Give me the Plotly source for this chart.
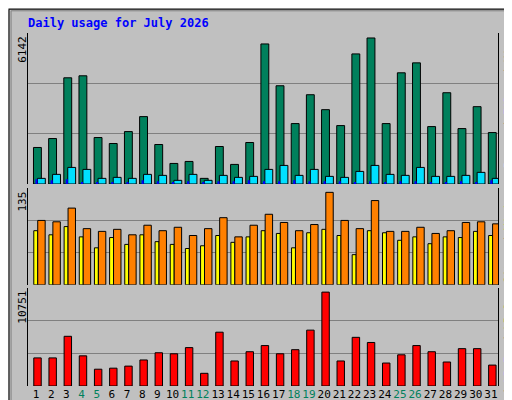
import plotly.graph_objects as go

days = list(range(1, 32))
hits = [1536, 1912, 4467, 4551, 1954, 1703, 2205, 2834, 1661, 865, 949, 237, 1577, 824, 1745, 5891,
        4132, 2541, 3755, 3127, 2457, 5472, 6142, 2541, 4677, 5095, 2415, 3839, 2331, 3253, 2164]
files = [237, 405, 698, 614, 237, 279, 237, 405, 363, 154, 405, 154, 363, 279, 321, 614,
         782, 363, 614, 321, 279, 530, 782, 405, 363, 698, 321, 321, 363, 489, 237]
pages = [196, 154, 196, 84, 84, 84, 84, 154, 112, 84, 112, 84, 112, 112, 154, 112,
         112, 154, 112, 112, 112, 84, 112, 84, 112, 112, 84, 84, 112, 84, 154]
visits = [79, 73, 85, 70, 54, 69, 59, 73, 63, 59, 53, 57, 72, 62, 70, 79,
          75, 54, 76, 81, 72, 44, 79, 76, 65, 70, 60, 70, 69, 78, 72]
sites = [94, 92, 112, 82, 78, 81, 73, 87, 79, 84, 72, 82, 98, 70, 87, 103,
         91, 79, 88, 135, 94, 82, 123, 78, 78, 84, 75, 79, 91, 92, 89]
kbytes = [3218, 3218, 5690, 3453, 1923, 2040, 2276, 2982, 3806, 3689, 4395, 1452, 6161, 2865, 3924, 4630,
          3689, 4159, 6396, 10751, 2865, 5572, 4983, 2629, 3571, 4630, 3924, 2747, 4277, 4277, 2394]
weekends = [4, 5, 11, 12, 18, 19, 25, 26]

MONO = "DejaVu Sans Mono"
line = dict(color="black", width=1)

fig = go.Figure()
fig.add_bar(x=days, y=hits, offset=-0.17, width=0.52, marker=dict(color="#00805C", line=line), yaxis="y")
fig.add_bar(x=days, y=files, offset=0.09, width=0.52, marker=dict(color="#00E0FF", line=line), yaxis="y")
fig.add_bar(x=days, y=pages, offset=-0.04, width=0.14, marker=dict(color="#0000FF", line=dict(width=0)), yaxis="y")
fig.add_bar(x=days, y=visits, offset=-0.15, width=0.26, marker=dict(color="#FFFF00", line=line), yaxis="y2")
fig.add_bar(x=days, y=sites, offset=0.11, width=0.49, marker=dict(color="#FF8000", line=line), yaxis="y2")
fig.add_bar(x=days, y=kbytes, offset=-0.15, width=0.49, marker=dict(color="#FF0000", line=line), yaxis="y3")

ticktext = [f"<span style='color:#00805C'>{d}</span>" if d in weekends else str(d) for d in days]

def yax(dom, top):
    r = top
    return dict(domain=dom, range=[0, r], tickvals=[r / 3, 2 * r / 3], showticklabels=False,
                showgrid=True, gridcolor="#808080", gridwidth=1, zeroline=False, automargin=False,
                showline=True, linecolor="black", mirror=True, ticks="", fixedrange=True)

ymax1 = max(hits) * 455 / 440
ymax2 = max(sites) * 289 / 276
ymax3 = max(kbytes) * 286 / 274

fig.update_layout(
    width=512, height=400, margin=dict(l=0, r=0, t=0, b=0, autoexpand=False),
    paper_bgcolor="#C0C0C0", plot_bgcolor="#C0C0C0",
    barmode="overlay", showlegend=False, font=dict(family=MONO, size=11, color="black"),
    xaxis=dict(domain=[0.04, 0.958], range=[0.5, 31.5], tickvals=days, ticktext=ticktext,
               tickangle=0, automargin=False,
               showgrid=False, zeroline=False, showline=False, ticks="", anchor="y3",
               tickfont=dict(family=MONO, size=11)),
    yaxis=yax([0.56, 0.9375], ymax1),
    yaxis2=yax([0.308, 0.55], ymax2),
    yaxis3=yax([0.055, 0.30], ymax3),
)

fig.add_annotation(text="<b>Daily usage for July 2026</b>", x=0.035, y=0.985, xref="paper", yref="paper",
                   xanchor="left", yanchor="top", showarrow=False, font=dict(family=MONO, size=12, color="#0000FF"))

for val, ytop in [(max(hits), 0.935), (max(sites), 0.547), (max(kbytes), 0.298)]:
    fig.add_annotation(text=str(val), x=0.028, y=ytop, xref="paper", yref="paper", textangle=-90,
                       xanchor="center", yanchor="top", showarrow=False, font=dict(family=MONO, size=11))

side = [
    ("<span style='color:#00E0FF'>Pages</span> / <span style='color:#0080FF'>Files</span> / "
     "<span style='color:#00805C'>Hits</span>", 0.9375),
    ("<span style='color:#FF8000'>Sites</span> / <span style='color:#FFFF00'>Visits</span>", 0.55),
    ("<span style='color:#FF0000'>kB F</span> / <span style='color:#0080FF'>kB In</span> / "
     "<span style='color:#00C000'>kB Out</span>", 0.30),
]
for txt, ytop in side:
    fig.add_annotation(text=txt, x=0.978, y=ytop, xref="paper", yref="paper", textangle=-90,
                       xanchor="center", yanchor="top", showarrow=False, font=dict(family=MONO, size=11))

fig.add_shape(type="rect", xref="paper", yref="paper", x0=0.002, y0=0.003, x1=0.998, y1=0.997,
              line=dict(color="black", width=1))
fig.add_shape(type="rect", xref="paper", yref="paper", x0=0.006, y0=0.01, x1=0.994, y1=0.993,
              line=dict(color="#808080", width=1))

fig.write_html("out.html")
